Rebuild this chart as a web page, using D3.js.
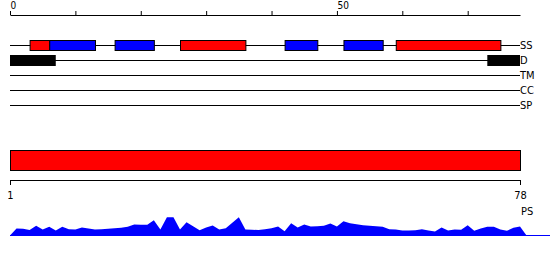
<!DOCTYPE html>
<html>
<head>
<meta charset="utf-8">
<script src="https://cdn.jsdelivr.net/npm/d3@7"></script>
<style>
  body { margin: 0; background: #fff; }
  text { font-family: "Liberation Sans Narrow", "DejaVu Sans Condensed", sans-serif; font-size: 11px; }
  .toplab { font-size: 10px; }
</style>
</head>
<body>
<script>
// sequence length and track names
var seqLength = 78;
var trackNames = ["SS", "D", "TM", "CC", "SP"];

// secondary structure segments [start, end, type]
var ssSegments = [
  [3, 6, "helix"], [6, 13, "strand"], [16, 22, "strand"], [26, 36, "helix"],
  [42, 47, "strand"], [51, 57, "strand"], [59, 75, "helix"]
];
// disorder segments
var dSegments = [[0, 7], [73, 78]];
// domain bar
var domainBar = [[1, 78]];
var topTicks = [0, 10, 20, 30, 40, 50, 60, 70];
var topLabels = [0, 50];
var bottomTicks = [1, 78];

// per-residue profile (PS)
var psValues = [
  7, 6.7, 5.5, 9.7, 6, 8.8, 5, 8.8, 6.3, 6,
  8, 7, 6, 6.3, 6.8, 7.2, 7.8, 8.7, 11, 10.8,
  10.7, 15.3, 6, 18.3, 18.3, 6, 13.3, 9.3, 5.3, 8,
  10, 6, 7.3, 12.7, 18.3, 6, 5.7, 5.5, 6.3, 7.3,
  9, 4.3, 12.3, 8, 11, 9, 9.2, 9.7, 12, 9,
  14.3, 12.3, 11.3, 10.3, 9.8, 9.3, 8.7, 6.3, 6, 5,
  5, 5.3, 6.3, 5, 4, 8, 5, 6, 5.7, 10.3,
  4.7, 7, 8.7, 8.7, 6, 4.7, 7.7, 9
];

var colors = { helix: "#ff0000", strand: "#0000ff" };

var svg = d3.select("body").append("svg").attr("width", 550).attr("height", 260);

var x = d3.scaleLinear().domain([0, seqLength]).range([10, 520]);
var xb = d3.scaleLinear().domain([1, seqLength]).range([10, 520]);

// top axis
var topAxis = svg.append("g").attr("transform", "translate(0,15)")
  .call(d3.axisTop(x).tickValues(topTicks).tickSize(4).tickSizeOuter(0)
    .tickFormat(function (d) { return topLabels.indexOf(d) >= 0 ? d : ""; }));
topAxis.attr("font-family", null).attr("font-size", null);
topAxis.select(".domain").attr("stroke", "#000");
topAxis.selectAll(".tick line").attr("stroke", "#000");
topAxis.selectAll("text").attr("class", "toplab").attr("text-anchor", "start")
  .attr("y", -6).attr("fill", "#000");

// track lines + labels
var track = d3.scalePoint().domain(trackNames).range([45.5, 105.5]);

svg.selectAll("line.track")
  .data(trackNames).enter().append("line")
  .attr("class", "track")
  .attr("x1", x(0)).attr("x2", x(seqLength))
  .attr("y1", function (d) { return track(d); })
  .attr("y2", function (d) { return track(d); })
  .attr("stroke", "#000");

svg.selectAll("text.tname")
  .data(trackNames).enter().append("text")
  .attr("class", "tname")
  .attr("x", x(seqLength))
  .attr("y", function (d) { return track(d); })
  .attr("dy", "0.35em")
  .text(function (d) { return d; });

// SS boxes
svg.selectAll("rect.ss")
  .data(ssSegments).enter().append("rect")
  .attr("class", "ss")
  .attr("x", function (d) { return x(d[0]) + 0.5; })
  .attr("width", function (d) { return x(d[1]) - x(d[0]); })
  .attr("y", track("SS") - 5)
  .attr("height", 10)
  .attr("fill", function (d) { return colors[d[2]]; })
  .attr("stroke", "#000");

// D boxes
svg.selectAll("rect.dis")
  .data(dSegments).enter().append("rect")
  .attr("class", "dis")
  .attr("x", function (d) { return x(d[0]); })
  .attr("width", function (d) { return x(d[1]) - x(d[0]); })
  .attr("y", track("D") - 5.5)
  .attr("height", 11)
  .attr("fill", "#000");

// domain bar
svg.selectAll("rect.dom")
  .data(domainBar).enter().append("rect")
  .attr("class", "dom")
  .attr("x", function (d) { return xb(d[0]) + 0.5; })
  .attr("width", function (d) { return xb(d[1]) - xb(d[0]); })
  .attr("y", 150.5)
  .attr("height", 20)
  .attr("fill", "#ff0000")
  .attr("stroke", "#000");

// bottom axis
var botAxis = svg.append("g").attr("transform", "translate(0,180)")
  .call(d3.axisBottom(xb).tickValues(bottomTicks).tickSize(5).tickSizeOuter(0));
botAxis.attr("font-family", null).attr("font-size", null);
botAxis.select(".domain").attr("stroke", "#000");
botAxis.selectAll(".tick line").attr("stroke", "#000");
botAxis.selectAll("text").attr("y", 19).attr("dy", 0).attr("fill", "#000");

svg.append("text").attr("x", x(seqLength) + 1).attr("y", 215).text("PS");

// profile area
var y = d3.scaleLinear().domain([0, 20]).range([235.5, 215.5]);
var pts = [[0, 0]].concat(psValues.map(function (v, i) { return [i + 1, v]; }), [[seqLength + 1, 0]]);

svg.append("path")
  .datum(pts)
  .attr("fill", "#0000ff")
  .attr("d", d3.area()
    .x(function (d) { return x(d[0]); })
    .y0(y(0))
    .y1(function (d) { return y(d[1]); }));

svg.append("line")
  .attr("x1", x(0)).attr("x2", 550)
  .attr("y1", y(0)).attr("y2", y(0))
  .attr("stroke", "#0000ff");
</script>
</body>
</html>
